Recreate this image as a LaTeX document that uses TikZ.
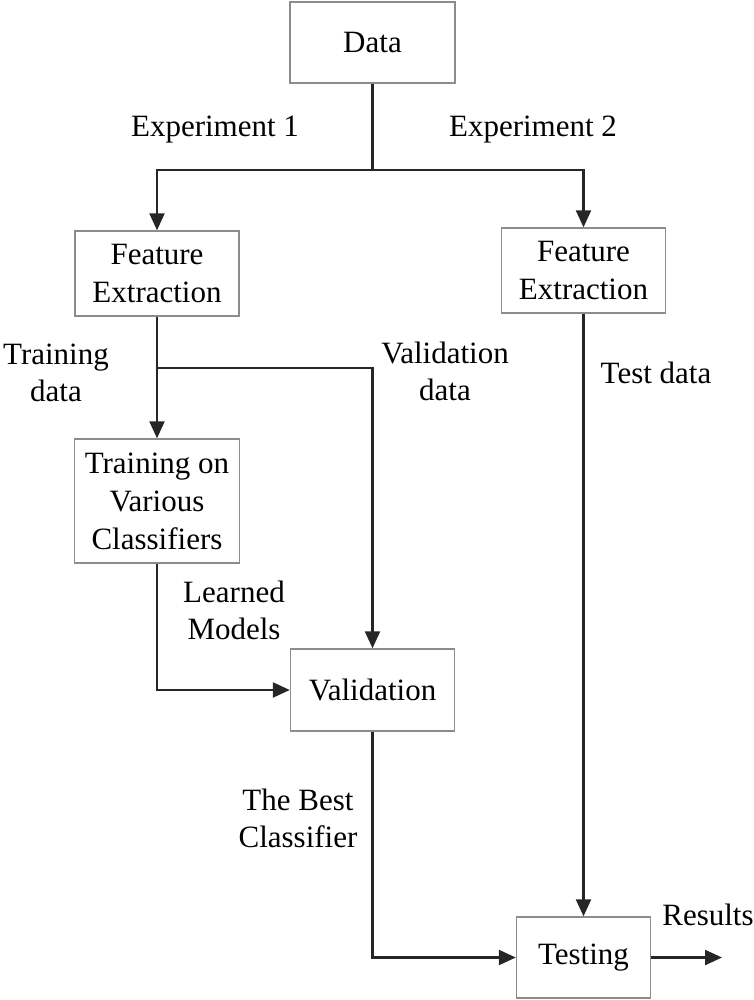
\documentclass[tikz,border=0pt]{standalone}
\usepackage{fontspec}
\setmainfont{Liberation Serif}
\usetikzlibrary{arrows.meta}
\begin{document}
\begin{tikzpicture}[x=1pt,y=-1pt,
  box/.style={draw=black!45,line width=1.4pt,align=center,inner sep=0pt,
    font=\fontsize{31}{38}\selectfont},
  lbl/.style={align=center,inner sep=0pt,font=\fontsize{31}{37}\selectfont},
  conn/.style={line width=2.3pt,draw=black!85},
  arr/.style={conn,-{Triangle[length=17pt,width=15pt]}}]
\useasboundingbox (0,0) rectangle (754,1000);
% boxes
\node[box,minimum width=165pt,minimum height=81pt] (data) at (372.5,42.5) {Data};
\node[box,minimum width=164pt,minimum height=85pt] (fe1) at (157,273.5) {Feature\\Extraction};
\node[box,minimum width=164pt,minimum height=85pt] (fe2) at (583.5,270.5) {Feature\\Extraction};
\node[box,minimum width=165pt,minimum height=124pt] (train) at (157,501) {Training on\\Various\\Classifiers};
\node[box,minimum width=164pt,minimum height=82pt] (valid) at (372.5,690) {Validation};
\node[box,minimum width=134pt,minimum height=81pt] (test) at (583.5,957.5) {Testing};
% coordinates
\coordinate (s1) at (372.5,170);
\coordinate (s2) at (157,368);
\coordinate (out) at (722,957.5);
% connectors
\draw[conn] (data.south) -- (s1);
\draw[arr] (s1) -| (fe1.north);
\draw[arr] (s1) -| (fe2.north);
\draw[arr] (fe1.south) -- (train.north);
\draw[arr] (s2) -| (valid.north);
\draw[arr] (train.south) |- (valid.west);
\draw[arr] (valid.south) |- (test.west);
\draw[arr] (fe2.south) -- (test.north);
\draw[arr] (test.east) -- (out);
% labels
\node[lbl] (l1) at (215,130) {Experiment 1};
\node[lbl] (l2) at (533,130) {Experiment 2};
\node[lbl] (l3) at (56,373) {Training\\data};
\node[lbl] (l4) at (445,371) {Validation\\data};
\node[lbl] (l5) at (656,373) {Test data};
\node[lbl] (l6) at (234,610) {Learned\\Models};
\node[lbl] (l7) at (298,818) {The Best\\Classifier};
\node[lbl] (l8) at (708,915) {Results};
\end{tikzpicture}
\end{document}
